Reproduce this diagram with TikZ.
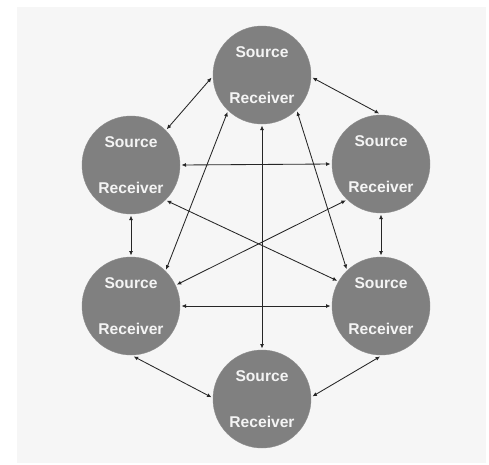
\documentclass[tikz,border=0pt]{standalone}
\usepackage{fontspec}
\setmainfont{Liberation Sans}
\usetikzlibrary{arrows.meta}
\definecolor{bgc}{HTML}{F6F6F6}
\definecolor{circc}{HTML}{808080}
\definecolor{txtc}{HTML}{F4F4F4}
\begin{document}
\begin{tikzpicture}[x=1pt,y=-1pt,
  peer/.style={circle,fill=circc,draw=circc!90!white,minimum size=98pt,inner sep=0pt,outer sep=1.5pt,
    text=txtc,font=\bfseries\fontsize{15.6}{46}\selectfont,align=center},
  link/.style={line width=0.85pt,draw=black!85,{Latex[length=4.5pt,width=4pt]}-{Latex[length=4.5pt,width=4pt]}}]
\useasboundingbox (0,0) rectangle (489,464);
\fill[bgc] (17,6.5) rectangle (486,463);
\node[peer] (top) at (262,75) {Source\\Receiver};
\node[peer] (ul) at (131,165) {Source\\Receiver};
\node[peer] (ur) at (381,164) {Source\\Receiver};
\node[peer] (ll) at (131,306) {Source\\Receiver};
\node[peer] (lr) at (381,306) {Source\\Receiver};
\node[peer] (bot) at (262,399) {Source\\Receiver};
\draw[link] (top.183) -- (ul.45);
\draw[link] (top.357) -- (ur.92);
\draw[link] (top.227) -- (ll.46);
\draw[link] (top.270) -- (bot.90);
\draw[link] (top.314) -- (lr.133);
\draw[link] (ul.0) -- (ur.180);
\draw[link] (ul.315) -- (lr.150);
\draw[link] (ur.226) -- (ll.25);
\draw[link] (ul.270) -- (ll.90);
\draw[link] (ur.270) -- (lr.90);
\draw[link] (ll.0) -- (lr.180);
\draw[link] (ll.273) -- (bot.178);
\draw[link] (lr.269) -- (bot.3);
\end{tikzpicture}
\end{document}
